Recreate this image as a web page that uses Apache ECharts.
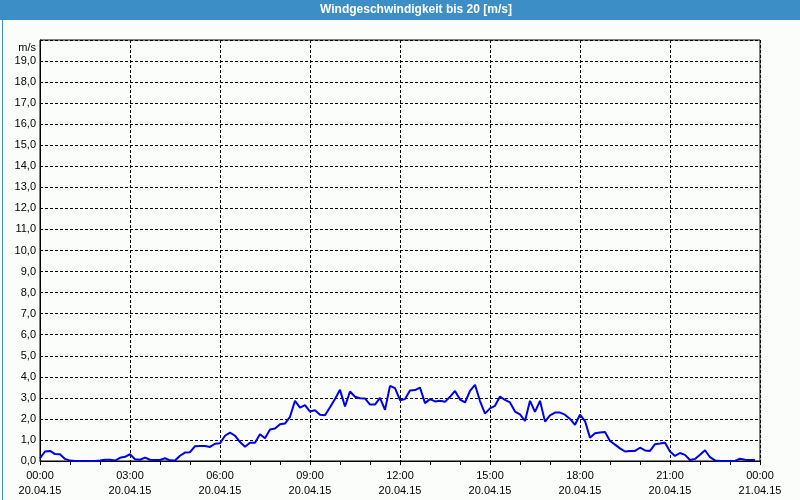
<!DOCTYPE html>
<html><head><meta charset="utf-8">
<script src="https://cdn.jsdelivr.net/npm/echarts@6/dist/echarts.min.js"></script>
<style>html,body{margin:0;padding:0;background:#fbfdfb}#c{width:800px;height:500px}</style>
</head><body><div id="c"></div>
<script>
// Wind speed [m/s], 10-minute samples starting 20.04.15 00:00
const startDate = '20.04.15';
const endDate = '21.04.15';
const stepMinutes = 10;
const windSpeed = [
 0.13,0.45,0.48,0.33,0.32,0.10,0.02,0,0,0,0,0,
 0.02,0.06,0.06,0.02,0.15,0.20,0.32,0.08,0.06,0.16,0.06,0.05,
 0.05,0.13,0.03,0.02,0.25,0.40,0.42,0.70,0.71,0.71,0.67,0.82,
 0.84,1.20,1.35,1.20,0.90,0.68,0.87,0.87,1.27,1.08,1.50,1.54,
 1.75,1.78,2.10,2.86,2.54,2.65,2.35,2.41,2.20,2.17,2.55,2.95,
 3.38,2.59,3.30,3.05,2.98,2.97,2.68,2.68,3.00,2.43,3.57,3.46,
 2.89,2.94,3.35,3.37,3.49,2.75,2.94,2.83,2.86,2.81,3.05,3.33,
 2.92,2.78,3.33,3.62,2.85,2.25,2.50,2.62,3.06,2.90,2.78,2.35,
 2.21,1.90,2.86,2.33,2.86,1.87,2.17,2.30,2.30,2.20,2.00,1.72,
 2.20,1.90,1.11,1.32,1.35,1.38,0.95,0.78,0.60,0.45,0.48,0.48,
 0.63,0.50,0.48,0.80,0.83,0.87,0.45,0.24,0.38,0.29,0.05,0.10,
 0.30,0.51,0.18,0.03,0,0,0,0,0.11,0.06,0.05,0.05
];
const yTicks = {min:0, max:20, interval:1};
const titleText = 'Windgeschwindigkeit bis 20 [m/s]';
const unitLabel = 'm/s';

const seriesData = windSpeed.map((v,i)=>[i*stepMinutes, v]);
const font = '"Liberation Sans", Arial, sans-serif';
function pad(n){return (n<10?'0':'')+n;}
const chart = echarts.init(document.getElementById('c'), null, {renderer:'canvas'});
chart.setOption({
  backgroundColor:'#fbfdfb',
  animation:false,
  graphic:[
    {type:'rect', left:0, top:0, shape:{width:800,height:20}, style:{fill:'#3c8fc6'}, z:10},
    {type:'text', x:416, y:10, style:{text:titleText, fill:'#ffffff', font:'bold 12px '+font, textAlign:'center', textVerticalAlign:'middle'}, z:11},
    {type:'rect', left:0, top:0, shape:{x:0.5,y:0.5,width:799,height:499}, style:{fill:'none', stroke:'#3c8fc6', lineWidth:1}, z:9}
  ],
  grid:{left:40, right:40, top:40, bottom:39, show:true, borderColor:'#000', borderWidth:1, backgroundColor:'transparent'},
  xAxis:{
    type:'value', min:0, max:1440, interval:180,
    axisLine:{show:true, lineStyle:{color:'#000', width:1}},
    axisTick:{show:true, length:4, lineStyle:{color:'#000'}},
    minorTick:{show:true, splitNumber:3, length:4, lineStyle:{color:'#000'}},
    splitLine:{show:true, lineStyle:{color:'#000', type:[3,2], width:1}},
    axisLabel:{color:'#000', fontFamily:font, fontSize:11, lineHeight:15, margin:7,
      formatter:function(v){const h=Math.floor(v/60)%24, m=v%60; return pad(h)+':'+pad(m)+'\n'+(v>=1440?endDate:startDate);}}
  },
  yAxis:{
    type:'value', min:yTicks.min, max:yTicks.max, interval:yTicks.interval,
    name:unitLabel, nameLocation:'end', nameGap:-13,
    nameTextStyle:{color:'#000', fontFamily:font, fontSize:11, align:'right', padding:[0,4,0,0]},
    axisLine:{show:true, lineStyle:{color:'#000'}},
    axisTick:{show:false},
    splitLine:{show:true, lineStyle:{color:'#000', type:[3,2], width:1}},
    axisLabel:{color:'#000', fontFamily:font, fontSize:11, margin:4,
      formatter:function(v){return v>=20?'':v.toFixed(1).replace('.',',');}}
  },
  series:[{type:'line', data:seriesData, showSymbol:false, symbol:'none',
    lineStyle:{color:'#0000e6', width:2}, z:5}]
});
</script></body></html>
